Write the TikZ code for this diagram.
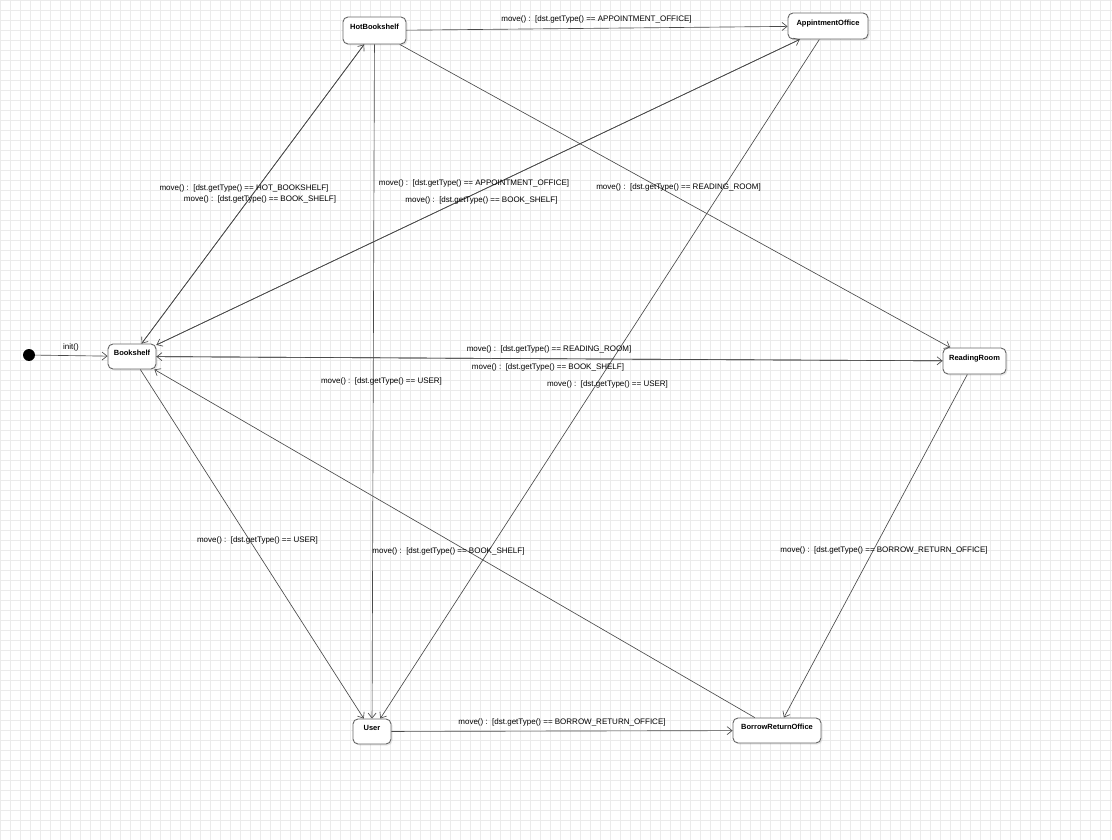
\documentclass[tikz,border=0pt]{standalone}
\usepackage{fontspec}
\setmainfont{Liberation Sans}
\usetikzlibrary{arrows.meta,shadows}
\definecolor{gridline}{HTML}{EBEBEB}
\definecolor{edge}{HTML}{4A4A4A}
\definecolor{frame}{HTML}{666666}

\begin{document}
\begin{tikzpicture}[x=1pt,y=-1pt,>={Straight Barb[length=5pt,width=8pt]},
 state/.style={draw=frame,fill=white,rounded corners=5pt,line width=0.9pt,
   font=\fontsize{7.5}{9}\selectfont\bfseries,inner sep=0pt,text height=5.5pt,text depth=7pt,
   drop shadow={opacity=0.18,shadow xshift=1.5pt,shadow yshift=-1.5pt}},
 guard/.style={font=\fontsize{8}{9}\selectfont,inner sep=1pt},
 arr/.style={->,line width=0.65pt,color=edge}]
 % background grid
 \useasboundingbox (0,0) rectangle (1112,840);
 \fill[white] (0,0) rectangle (1112,840);
 \foreach \x in {0,10,...,1110} \draw[gridline,line width=0.5pt] (\x,0) -- (\x,840);
 \foreach \y in {0,10,...,840} \draw[gridline,line width=0.5pt] (0,\y) -- (1112,\y);
 % states
 \node[circle,fill=black,minimum size=12pt,inner sep=0pt] (start) at (29,355) {};
 \node[state,minimum width=63pt,minimum height=27pt] (hot) at (374.5,30.5) {HotBookshelf};
 \node[state,minimum width=80pt,minimum height=26pt] (appt) at (828,26) {AppintmentOffice};
 \node[state,minimum width=48pt,minimum height=25pt] (shelf) at (132,356.5) {Bookshelf};
 \node[state,minimum width=63pt,minimum height=26pt] (read) at (974.5,361) {ReadingRoom};
 \node[state,minimum width=38pt,minimum height=25pt] (user) at (372,731.5) {User};
 \node[state,minimum width=88pt,minimum height=25pt] (borrow) at (777,730.5) {BorrowReturnOffice};
 % transitions
 \foreach \a/\b in {start/shelf,hot/appt,shelf/hot,hot/shelf,shelf/appt,appt/shelf,
   hot/read,shelf/read,read/shelf,hot/user,appt/user,shelf/user,borrow/shelf,
   read/borrow,user/borrow}
   \draw[arr] (\a)--(\b);
 % guards
 \node[guard] (g0) at (71,347) {init()};
 \node[guard] (g1) at (596.5,19) {move() :\ \ [dst.getType() == APPOINTMENT\_OFFICE]};
 \node[guard] (g2) at (244,188) {move() :\ \ [dst.getType() == HOT\_BOOKSHELF]};
 \node[guard] (g3) at (260,199) {move() :\ \ [dst.getType() == BOOK\_SHELF]};
 \node[guard] (g4) at (474,183) {move() :\ \ [dst.getType() == APPOINTMENT\_OFFICE]};
 \node[guard] (g5) at (481.5,200) {move() :\ \ [dst.getType() == BOOK\_SHELF]};
 \node[guard] (g6) at (678.5,187) {move() :\ \ [dst.getType() == READING\_ROOM]};
 \node[guard] (g7) at (549,349) {move() :\ \ [dst.getType() == READING\_ROOM]};
 \node[guard] (g8) at (548,367) {move() :\ \ [dst.getType() == BOOK\_SHELF]};
 \node[guard] (g9) at (381.5,381) {move() :\ \ [dst.getType() == USER]};
 \node[guard] (g10) at (607.5,384) {move() :\ \ [dst.getType() == USER]};
 \node[guard] (g11) at (257.5,540) {move() :\ \ [dst.getType() == USER]};
 \node[guard] (g12) at (448.5,551) {move() :\ \ [dst.getType() == BOOK\_SHELF]};
 \node[guard] (g13) at (884,550) {move() :\ \ [dst.getType() == BORROW\_RETURN\_OFFICE]};
 \node[guard] (g14) at (562,722) {move() :\ \ [dst.getType() == BORROW\_RETURN\_OFFICE]};
\end{tikzpicture}
\end{document}
